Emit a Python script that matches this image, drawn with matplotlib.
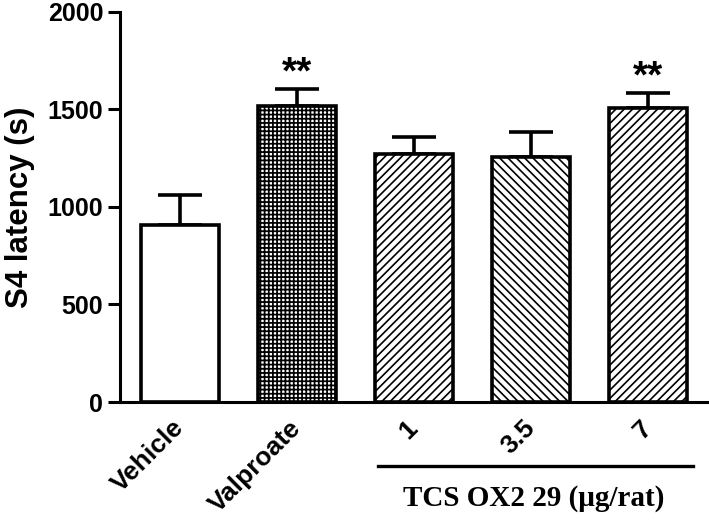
import matplotlib
matplotlib.use("Agg")
import matplotlib.pyplot as plt
import numpy as np

# data
groups = ["Vehicle", "Valproate", "1", "3.5", "7"]
latency = [908, 1518, 1272, 1256, 1508]
sem = [154, 87, 87, 129, 77]
stars = ["", "**", "", "", "**"]
hatches = [None, "++++", "////", "\\\\\\\\", "////"]
hatch_lw = [1.0, 1.25, 1.2, 1.2, 1.2]

plt.rcParams["font.family"] = ["Liberation Sans", "DejaVu Sans"]
plt.rcParams["font.weight"] = "bold"

fig = plt.figure(figsize=(7.09, 5.21), dpi=100)
ax = fig.add_axes([0.1693, 0.2284, 0.8307, 0.7486])

x = np.arange(len(groups))
bars = ax.bar(x, latency, width=0.667, color="white", edgecolor="black",
              linewidth=2.6, zorder=3)
for b, h, lw in zip(bars, hatches, hatch_lw):
    if h:
        b.set_hatch(h)
        if hasattr(b, "set_hatch_linewidth"):
            b.set_hatch_linewidth(lw)

ax.errorbar(x, latency, yerr=[[0] * len(x), sem], fmt="none", ecolor="black",
            elinewidth=2.6, capsize=15.5, capthick=2.6, zorder=2)

for xi, y, e, s in zip(x, latency, sem, stars):
    if s:
        ax.annotate(s, (xi, y + e), xytext=(0, 4), textcoords="offset points",
                    ha="center", va="baseline", fontsize=28, fontweight="bold")

ax.set_xlim(-0.513, 4.521)
ax.set_ylim(0, 2000)
ax.set_yticks([0, 500, 1000, 1500, 2000])
ax.spines["top"].set_visible(False)
ax.spines["right"].set_visible(False)
ax.spines["left"].set_linewidth(2.2)
ax.spines["bottom"].set_linewidth(2.2)
ax.tick_params(axis="y", length=9, width=2.2, labelsize=18, pad=3)
ax.tick_params(axis="x", length=0, pad=16)
ax.set_xticks(x)
ax.set_xticklabels(groups, rotation=45, ha="right", va="center",
                   rotation_mode="anchor", fontsize=19, fontweight="bold")
ax.set_ylabel("S4 latency (s)", fontsize=22.5, fontweight="bold", labelpad=9)

# group bracket for the TCS OX2 29 doses
tr = ax.get_xaxis_transform()
ax.plot([1.69, 4.38], [-0.164, -0.164], color="black", lw=2.4,
        transform=tr, clip_on=False)
ax.text(3.02, -0.248, "TCS OX2 29 (\u03bcg/rat)", transform=tr, ha="center",
        va="center", fontsize=21, fontweight="bold",
        family=["Liberation Serif", "DejaVu Serif"])

fig.savefig("out.png", dpi=100)
